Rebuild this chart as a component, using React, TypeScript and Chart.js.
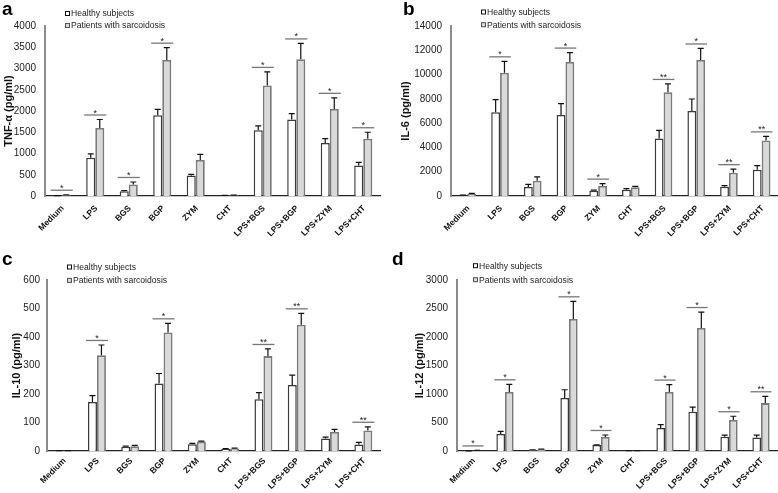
import React, { useEffect, useRef } from 'react';
import { Chart, registerables } from 'chart.js';
Chart.register(...registerables);

const FONT = '"Liberation Sans", Arial, Helvetica, sans-serif';

const categories = ['Medium', 'LPS', 'BGS', 'BGP', 'ZYM', 'CHT', 'LPS+BGS', 'LPS+BGP', 'LPS+ZYM', 'LPS+CHT'];
const seriesNames = ['Healthy subjects', 'Patients with sarcoidosis'];

// Panel a: TNF-α
const tnfHealthy = [5, 900, 110, 1900, 480, 10, 1550, 1800, 1250, 720];
const tnfHealthyErr = [5, 90, 20, 140, 30, 5, 100, 140, 100, 70];
const tnfPatients = [20, 1600, 270, 3200, 850, 15, 2600, 3220, 2050, 1350];
const tnfPatientsErr = [10, 200, 60, 290, 130, 5, 320, 370, 260, 150];
const tnfSig = ['*', '*', '*', '*', '', '', '*', '*', '*', '*'];

// Panel b: IL-6
const il6Healthy = [50, 6900, 750, 6680, 440, 520, 4740, 6990, 770, 2160];
const il6HealthyErr = [20, 1030, 210, 920, 40, 80, 660, 1000, 90, 340];
const il6Patients = [180, 10150, 1250, 11030, 830, 720, 8540, 11200, 1910, 4580];
const il6PatientsErr = [30, 940, 330, 780, 190, 80, 690, 950, 300, 330];
const il6Sig = ['', '*', '', '*', '*', '', '**', '*', '**', '**'];

// Panel c: IL-10
const il10Healthy = [1, 172, 15, 237, 24, 7, 182, 232, 44, 23];
const il10HealthyErr = [0.5, 22, 2, 35, 3, 1, 23, 34, 5, 7];
const il10Patients = [1, 336, 17, 416, 33, 9, 333, 443, 67, 72];
const il10PatientsErr = [0.5, 36, 3, 32, 2, 1, 25, 40, 9, 13];
const il10Sig = ['', '*', '', '*', '', '', '**', '**', '', '**'];

// Panel d: IL-12
const il12Healthy = [2, 300, 18, 930, 105, 5, 404, 690, 250, 235];
const il12HealthyErr = [1, 45, 3, 145, 5, 2, 60, 80, 30, 45];
const il12Patients = [8, 1035, 28, 2316, 246, 5, 1035, 2158, 545, 840];
const il12PatientsErr = [2, 135, 5, 310, 35, 2, 130, 280, 65, 120];
const il12Sig = ['*', '*', '', '*', '*', '', '*', '*', '*', '**'];

type PanelCfg = {
  letter: string;
  yTitle: string;
  max: number;
  step: number;
  healthy: number[];
  healthyErr: number[];
  patients: number[];
  patientsErr: number[];
  sig: string[];
  box: { left: number; top: number; width: number; height: number };
  area: { left: number; right: number; top: number; bottom: number };
  legend: { x: number; y: number; dy: number };
  titleOffset: number;
  tickPad: number;
  labelOffset: number;
  letterPos: { left: number; top: number };
};

const panels: PanelCfg[] = [
  {
    letter: 'a', yTitle: 'TNF-α (pg/ml)', max: 4000, step: 500,
    healthy: tnfHealthy, healthyErr: tnfHealthyErr, patients: tnfPatients, patientsErr: tnfPatientsErr, sig: tnfSig,
    box: { left: 0, top: 0, width: 389, height: 246 },
    area: { left: 45, right: 380, top: 26, bottom: 196 },
    legend: { x: 65, y: 13.5, dy: 12 }, titleOffset: 9, tickPad: 9, labelOffset: 11, letterPos: { left: 2, top: -1 },
  },
  {
    letter: 'b', yTitle: 'IL-6 (pg/ml)', max: 14000, step: 2000,
    healthy: il6Healthy, healthyErr: il6HealthyErr, patients: il6Patients, patientsErr: il6PatientsErr, sig: il6Sig,
    box: { left: 389, top: 0, width: 389, height: 246 },
    area: { left: 62, right: 389, top: 26, bottom: 196 },
    legend: { x: 92, y: 12, dy: 12.7 }, titleOffset: 17, tickPad: 9, labelOffset: 11, letterPos: { left: 403, top: -1 },
  },
  {
    letter: 'c', yTitle: 'IL-10 (pg/ml)', max: 600, step: 100,
    healthy: il10Healthy, healthyErr: il10HealthyErr, patients: il10Patients, patientsErr: il10PatientsErr, sig: il10Sig,
    box: { left: 0, top: 246, width: 389, height: 247 },
    area: { left: 47, right: 380, top: 34, bottom: 205 },
    legend: { x: 67, y: 21, dy: 13.4 }, titleOffset: 16.5, tickPad: 7, labelOffset: 8.5, letterPos: { left: 2, top: 249 },
  },
  {
    letter: 'd', yTitle: 'IL-12 (pg/ml)', max: 3000, step: 500,
    healthy: il12Healthy, healthyErr: il12HealthyErr, patients: il12Patients, patientsErr: il12PatientsErr, sig: il12Sig,
    box: { left: 389, top: 246, width: 389, height: 247 },
    area: { left: 68, right: 388, top: 34, bottom: 205 },
    legend: { x: 84, y: 19.7, dy: 14 }, titleOffset: 31, tickPad: 9, labelOffset: 8.5, letterPos: { left: 392, top: 249 },
  },
];

function annotPlugin(cfg: PanelCfg) {
  return {
    id: 'annot_' + cfg.letter,
    afterDatasetsDraw(chart: any) {
      const ctx = chart.ctx as CanvasRenderingContext2D;
      const ys = chart.scales.y;
      const xs = chart.scales.x;
      const vals = [cfg.healthy, cfg.patients];
      const errs = [cfg.healthyErr, cfg.patientsErr];
      ctx.save();
      // error bars
      ctx.strokeStyle = '#111';
      ctx.lineWidth = 1.2;
      for (let d = 0; d < 2; d++) {
        const meta = chart.getDatasetMeta(d);
        meta.data.forEach((el: any, j: number) => {
          const top = ys.getPixelForValue(vals[d][j]);
          const e = ys.getPixelForValue(vals[d][j] + errs[d][j]);
          const bx = el.x;
          ctx.beginPath();
          ctx.moveTo(bx, top);
          ctx.lineTo(bx, e);
          ctx.moveTo(bx - 3, e);
          ctx.lineTo(bx + 3, e);
          ctx.stroke();
        });
      }
      // significance markers
      const catW = (xs.right - xs.left) / categories.length;
      cfg.sig.forEach((s, j) => {
        if (!s) return;
        const top = Math.min(
          ys.getPixelForValue(vals[0][j] + errs[0][j]),
          ys.getPixelForValue(vals[1][j] + errs[1][j])
        );
        const ly = top - 4.5;
        const cx = xs.getPixelForValue(j);
        ctx.strokeStyle = '#777';
        ctx.lineWidth = 1.3;
        ctx.beginPath();
        ctx.moveTo(cx - 0.33 * catW, ly);
        ctx.lineTo(cx + 0.33 * catW, ly);
        ctx.stroke();
        ctx.fillStyle = '#222';
        ctx.font = `9px ${FONT}`;
        ctx.textAlign = 'center';
        ctx.textBaseline = 'alphabetic';
        ctx.fillText(s, cx, ly + 0.5);
      });
      // category labels, rotated 45 degrees
      ctx.fillStyle = '#111';
      ctx.font = `bold 8.5px ${FONT}`;
      ctx.textAlign = 'right';
      ctx.textBaseline = 'middle';
      categories.forEach((c, j) => {
        const cx = xs.getPixelForValue(j);
        ctx.save();
        ctx.translate(cx + 1, xs.top + cfg.labelOffset);
        ctx.rotate(-Math.PI / 4);
        ctx.fillText(c, 0, 0);
        ctx.restore();
      });
      // legend
      const lx = cfg.legend.x;
      const ly0 = cfg.legend.y;
      const fills = ['#ffffff', '#d9d9d9'];
      const strokes = ['#111', '#555'];
      ctx.font = `8.6px ${FONT}`;
      ctx.textAlign = 'left';
      ctx.textBaseline = 'middle';
      seriesNames.forEach((name, i) => {
        const yy = ly0 + i * cfg.legend.dy;
        ctx.fillStyle = fills[i];
        ctx.fillRect(lx, yy - 2.5, 5, 5);
        ctx.strokeStyle = strokes[i];
        ctx.lineWidth = 1;
        ctx.strokeRect(lx + 0.5, yy - 2, 4, 4);
        ctx.fillStyle = '#222';
        ctx.fillText(name, lx + 6, yy + 0.5);
      });
      ctx.restore();
    },
  };
}

function Panel({ cfg }: { cfg: PanelCfg }) {
  const ref = useRef<HTMLCanvasElement | null>(null);
  useEffect(() => {
    if (!ref.current) return;
    const { area, box } = cfg;
    const chart = new Chart(ref.current, {
      type: 'bar',
      data: {
        labels: categories,
        datasets: [
          {
            label: seriesNames[0],
            data: cfg.healthy,
            backgroundColor: '#ffffff',
            borderColor: '#3a3a3a',
            borderWidth: 1.5,
          },
          {
            label: seriesNames[1],
            data: cfg.patients,
            backgroundColor: '#d9d9d9',
            borderColor: '#7a7a7a',
            borderWidth: 1.8,
          },
        ],
      },
      options: {
        responsive: false,
        animation: false,
        events: [],
        layout: { padding: { top: area.top, right: box.width - area.right, left: 0, bottom: 0 } },
        datasets: { bar: { categoryPercentage: 0.54, barPercentage: 1 } },
        plugins: { legend: { display: false }, tooltip: { enabled: false } },
        scales: {
          x: {
            grid: { display: false, drawTicks: false },
            border: { display: true, color: '#222', width: 1.2 },
            ticks: { display: false },
            afterFit: (s: any) => {
              s.height = box.height - area.bottom;
              s.paddingLeft = 0;
              s.paddingRight = 0;
            },
          },
          y: {
            min: 0,
            max: cfg.max,
            grid: { display: false, drawTicks: false },
            border: { display: true, color: '#8a8a8a', width: 2 },
            ticks: {
              stepSize: cfg.step,
              padding: cfg.tickPad,
              color: '#222',
              font: { family: FONT, size: 10 },
              callback: (v: any) => String(v),
            },
            title: {
              display: true,
              text: cfg.yTitle,
              color: '#111',
              padding: { top: cfg.titleOffset - 6.6, bottom: 0 },
              font: { family: FONT, size: 11, weight: 'bold' },
            },
            afterFit: (s: any) => {
              s.width = area.left;
              s.paddingTop = 0;
              s.paddingBottom = 0;
            },
          },
        },
      },
      plugins: [annotPlugin(cfg)],
    } as any);
    return () => chart.destroy();
  }, [cfg]);
  return (
    <canvas
      ref={ref}
      width={cfg.box.width}
      height={cfg.box.height}
      style={{ position: 'absolute', left: cfg.box.left, top: cfg.box.top, width: cfg.box.width, height: cfg.box.height }}
    />
  );
}

export default function App() {
  return (
    <div style={{ position: 'fixed', left: 0, top: 0, width: 778, height: 493, background: '#fff', overflow: 'hidden' }}>
      {panels.map((p) => (
        <Panel key={p.letter} cfg={p} />
      ))}
      {panels.map((p) => (
        <div
          key={'l' + p.letter}
          style={{
            position: 'absolute',
            left: p.letterPos.left,
            top: p.letterPos.top,
            fontFamily: FONT,
            fontWeight: 'bold',
            fontSize: 19,
            lineHeight: '19px',
            color: '#000',
          }}
        >
          {p.letter}
        </div>
      ))}
    </div>
  );
}
